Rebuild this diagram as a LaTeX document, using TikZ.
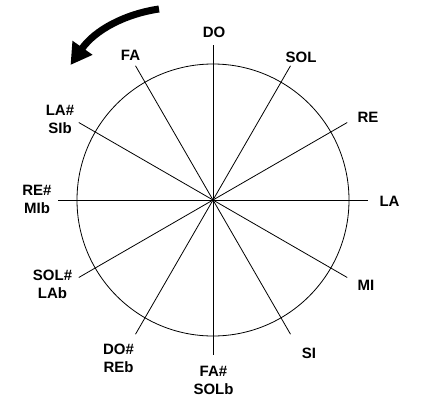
\documentclass[tikz,border=0pt]{standalone}
\usepackage{fontspec}
\setmainfont{Liberation Sans}
\usetikzlibrary{arrows.meta,calc}
\begin{document}
\begin{tikzpicture}[x=1pt,y=-1pt,
  lab/.style={font=\fontsize{15}{18}\selectfont\bfseries, align=center, inner sep=0pt, anchor=center},
  spoke/.style={line width=0.8pt, black},
  rim/.style={line width=0.8pt, black},
  turn/.style={line width=7pt, -{Triangle[length=21pt,width=23pt]}}]
\useasboundingbox (0,0) rectangle (423,404);
\coordinate (O) at (213,200);
\draw[rim] (O) circle[radius=136pt];
\foreach \a in {0,30,...,330}{
  \coordinate (p\a) at ($(O)+(\a:155)$);
}
\foreach \a in {0,30,...,330}{
  \draw[spoke] (O) -- (p\a);
}
\fill (O) circle[radius=1.6pt];
\node[lab] (do) at (214,32) {DO};
\node[lab] (fa) at (130.5,55) {FA};
\node[lab] (sol) at (301,57) {SOL};
\node[lab] (re) at (368,117) {RE};
\node[lab] (la) at (389.5,201.5) {LA};
\node[lab] (mi) at (366,285) {MI};
\node[lab] (si) at (309,353) {SI};
\node[lab] (fas) at (213.5,380.5) {FA\#\\SOLb};
\node[lab] (dos) at (118.5,358) {DO\#\\REb};
\node[lab] (sols) at (52.5,284) {SOL\#\\LAb};
\node[lab] (res) at (37,199) {RE\#\\MIb};
\node[lab] (las) at (60,119.5) {LA\#\\SIb};
\coordinate (t0) at (159,9);
\coordinate (t1) at (70.5,65);
\draw[turn] (t0) .. controls (125,14) and (95,30) .. (t1);
\end{tikzpicture}
\end{document}
